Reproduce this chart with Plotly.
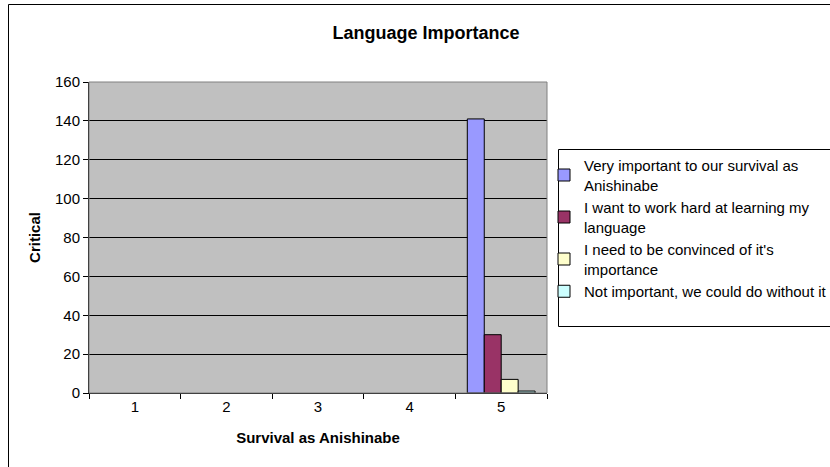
import plotly.graph_objects as go

categories = ["1", "2", "3", "4", "5"]
series_names = [
    "Very important to our survival as<br>Anishinabe",
    "I want to work hard at learning my<br>language",
    "I need to be convinced of it's<br>importance",
    "Not important, we could do without it",
]
very_important = [None, None, None, None, 141]
work_hard = [None, None, None, None, 30]
need_convinced = [None, None, None, None, 7]
not_important = [None, None, None, None, 1]
y_ticks = [0, 20, 40, 60, 80, 100, 120, 140, 160]

colors = ["#9999FF", "#993366", "#FFFFCC", "#CCFFFF"]
series = [very_important, work_hard, need_convinced, not_important]

FONT = "Liberation Sans, Arial, sans-serif"

fig = go.Figure()
for name, vals, col in zip(series_names, series, colors):
    fig.add_trace(go.Bar(
        x=categories, y=vals, name=name,
        marker=dict(color=col, line=dict(color="black", width=1)),
    ))

W, H = 830, 467
L, R, T, B = 89, 547, 82, 393
pw, ph = R - L, B - T

def px(xp):
    return (xp - L) / pw

def py(yp):
    return (B - yp) / ph

fig.update_layout(
    width=W, height=H,
    margin=dict(l=L, r=W - R, t=T, b=H - B, autoexpand=False),
    paper_bgcolor="white",
    plot_bgcolor="#C0C0C0",
    barmode="group",
    bargap=0.26,
    bargroupgap=0,
    font=dict(family=FONT, size=15, color="black"),
    title=dict(text="<b>Language Importance</b>", x=426 / W, xanchor="center",
               y=1 - 33 / H, yanchor="middle",
               font=dict(family=FONT, size=18, color="black")),
    legend=dict(
        x=px(544), xanchor="left",
        y=py(149), yanchor="top",
        bgcolor="rgba(0,0,0,0)", borderwidth=0,
        font=dict(family=FONT, size=15, color="black"),
        traceorder="normal",
        tracegroupgap=0,
    ),
    xaxis=dict(
        title=dict(text="<b>Survival as Anishinabe</b>", standoff=18,
                   font=dict(family=FONT, size=15)),
        showline=True, linecolor="black", linewidth=1,
        ticks="outside", tickson="boundaries", ticklen=5, tickcolor="black",
        showgrid=False, mirror=False,
        tickfont=dict(family=FONT, size=15),
    ),
    yaxis=dict(
        title=dict(text="<b>Critical</b>", standoff=10,
                   font=dict(family=FONT, size=15)),
        range=[0, 160], tickvals=y_ticks,
        showline=True, linecolor="black", linewidth=1,
        ticks="outside", ticklen=5, tickcolor="black",
        showgrid=True, gridcolor="black", gridwidth=1,
        zeroline=False,
        tickfont=dict(family=FONT, size=15),
    ),
    shapes=[
        # plot-area border (gray)
        dict(type="rect", xref="paper", yref="paper", x0=0, x1=1, y0=0, y1=1,
             line=dict(color="#808080", width=1), fillcolor="rgba(0,0,0,0)", layer="above"),
        # legend box
        dict(type="rect", xref="paper", yref="paper",
             x0=px(558.5), x1=px(W + 20), y0=py(326.5), y1=py(149.5),
             line=dict(color="black", width=1), fillcolor="white", layer="below"),
        # outer chart border
        dict(type="rect", xref="paper", yref="paper",
             x0=px(8.5), x1=px(W + 20), y0=py(H + 20), y1=py(4.5),
             line=dict(color="black", width=1), fillcolor="rgba(0,0,0,0)", layer="below"),
    ],
    showlegend=True,
)

fig.write_html("out.html", config={"displayModeBar": False},
               post_script="document.body.style.margin='0';")
